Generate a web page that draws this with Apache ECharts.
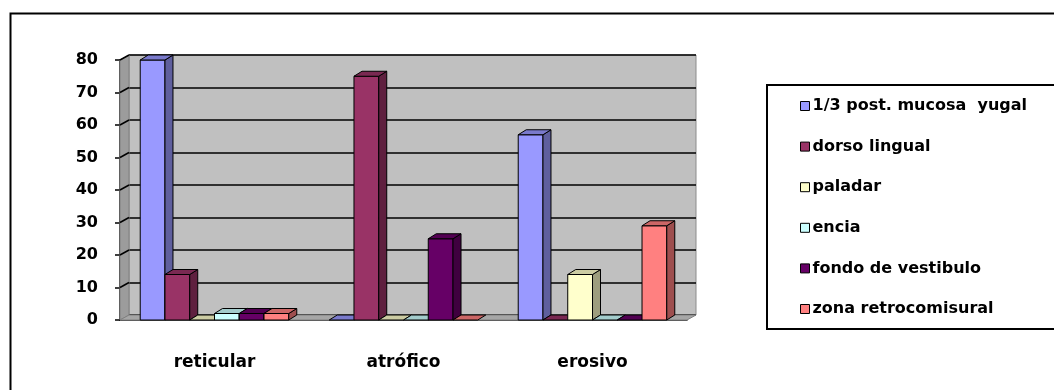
<!DOCTYPE html>
<html>
<head>
<meta charset="utf-8">
<script src="https://cdn.jsdelivr.net/npm/echarts@6/dist/echarts.min.js"></script>
<style>
  html, body {margin: 0; padding: 0; background: #fff;}
  #chart {width: 1054px; height: 390px;}
</style>
</head>
<body>
<div id="chart"></div>
<script>
const categories = ['reticular', 'atrófico', 'erosivo'];
const seriesNames = [
    '1/3 post. mucosa  yugal',
    'dorso lingual',
    'paladar',
    'encia',
    'fondo de vestibulo',
    'zona retrocomisural',
];
const postMucosaYugal = [80, 0, 57];
const dorsoLingual = [14, 75, 0];
const paladar = [0, 0, 14];
const encia = [2, 0, 0];
const fondoVestibulo = [2, 25, 0];
const zonaRetrocomisural = [2, 0, 29];
const seriesValues = [postMucosaYugal, dorsoLingual, paladar, encia, fondoVestibulo, zonaRetrocomisural];
const seriesColors = ['#9999ff', '#993366', '#ffffcc', '#ccffff', '#660066', '#ff8080'];

const FONT = 'DejaVu Sans';
const DX = 8, DY = 5;       // bar depth
const WX = 9, WY = 5;       // wall depth

const shade = (hex, f) => {
    const n = parseInt(hex.slice(1), 16);
    const r = Math.round(((n >> 16) & 255) * f);
    const g = Math.round(((n >> 8) & 255) * f);
    const b = Math.round((n & 255) * f);
    return `rgb(${r},${g},${b})`;
};

const barRenderer = (idx, color) => (params, api) => {
    const cat = api.value(0);
    const val = api.value(1);
    const top = api.coord([cat, val]);
    const base = api.coord([cat, 0]);
    const w = api.size([1, 0])[0] * 0.131;
    const x0 = top[0] - 3 * w + idx * w;
    const x1 = x0 + w;
    const stroke = {stroke: '#000', lineWidth: 1};
    const children = [];
    if (val > 0) {
        children.push({
            type: 'rect',
            shape: {x: x0, y: top[1], width: w, height: base[1] - top[1]},
            style: Object.assign({fill: color}, stroke),
        });
        children.push({
            type: 'polygon',
            shape: {points: [[x1, top[1]], [x1 + DX, top[1] - DY], [x1 + DX, base[1] - DY], [x1, base[1]]]},
            style: Object.assign({fill: shade(color, 0.62)}, stroke),
        });
    }
    children.push({
        type: 'polygon',
        shape: {points: [[x0, top[1]], [x0 + DX, top[1] - DY], [x1 + DX, top[1] - DY], [x1, top[1]]]},
        style: Object.assign({fill: shade(color, 0.8)}, stroke),
    });
    return {type: 'group', children};
};

const wallRenderer = (params, api) => {
    const cs = params.coordSys;
    const left = cs.x, right = cs.x + cs.width, bottom = cs.y + cs.height, topY = cs.y;
    const children = [
        {
            type: 'polygon',
            shape: {points: [[left, topY], [left + WX, topY - WY], [left + WX, bottom - WY], [left, bottom]]},
            style: {fill: '#9c9c9c', stroke: '#808080', lineWidth: 1},
        },
        {
            type: 'polygon',
            shape: {points: [[left, bottom], [left + WX, bottom - WY], [right + WX, bottom - WY], [right, bottom]]},
            style: {fill: '#a6a6a6', stroke: '#808080', lineWidth: 1},
        },
    ];
    for (let v = 10; v <= 80; v += 10) {
        const y = api.coord([0, v])[1];
        children.push({
            type: 'line',
            shape: {x1: left, y1: y, x2: left + WX, y2: y - WY},
            style: {stroke: '#000', lineWidth: 1.5},
        });
    }
    return {type: 'group', children};
};

const chart = echarts.init(document.getElementById('chart'));

const barSeries = seriesNames.map((name, i) => ({
    name,
    type: 'custom',
    xAxisIndex: 0,
    yAxisIndex: 0,
    z: 3,
    itemStyle: {color: seriesColors[i]},
    renderItem: barRenderer(i, seriesColors[i]),
    data: seriesValues[i].map((v, c) => [c, v]),
}));

chart.setOption({
    animation: false,
    grid: [
        {left: 120, right: 367, top: 60, bottom: 70},
        {left: 129, right: 358, top: 55, bottom: 75, show: true, backgroundColor: '#c0c0c0', borderColor: '#8c8c8c', borderWidth: 1},
    ],
    xAxis: [
        {
            type: 'category',
            gridIndex: 0,
            data: categories,
            axisLine: {lineStyle: {color: '#000', width: 1.5}},
            axisTick: {length: 6, lineStyle: {color: '#000', width: 2}},
            axisLabel: {color: '#000', fontFamily: FONT, fontWeight: 'bold', fontSize: 17, margin: 34},
        },
        {type: 'category', gridIndex: 1, data: categories, show: false},
    ],
    yAxis: [
        {
            type: 'value',
            gridIndex: 0,
            min: 0,
            max: 80,
            interval: 10,
            axisLine: {show: true, lineStyle: {color: '#000', width: 1.5}},
            axisTick: {show: true, length: 5, lineStyle: {color: '#000', width: 1.5}},
            axisLabel: {color: '#000', fontFamily: FONT, fontWeight: 'bold', fontSize: 16, margin: 22},
            splitLine: {show: false},
        },
        {
            type: 'value',
            gridIndex: 1,
            min: 0,
            max: 80,
            interval: 10,
            axisLine: {show: false},
            axisTick: {show: false},
            axisLabel: {show: false},
            splitLine: {lineStyle: {color: '#000', width: 1.5}},
        },
    ],
    legend: {
        orient: 'vertical',
        left: 795,
        top: 93,
        itemWidth: 9,
        itemHeight: 9,
        itemGap: 24.6,
        icon: 'rect',
        itemStyle: {borderColor: '#000', borderWidth: 1},
        textStyle: {color: '#000', fontFamily: FONT, fontWeight: 'bold', fontSize: 16, lineHeight: 16, padding: [0, 0, 0, -2]},
        data: seriesNames,
    },
    graphic: [
        {type: 'rect', left: 8, top: 11, shape: {width: 1100, height: 400}, style: {fill: 'none', stroke: '#000', lineWidth: 2}, silent: true, z: -1},
        {type: 'rect', left: 766, top: 84, shape: {width: 320, height: 244}, style: {fill: '#fff', stroke: '#000', lineWidth: 2}, silent: true, z: -1},
    ],
    series: [
        {
            name: 'walls',
            type: 'custom',
            xAxisIndex: 0,
            yAxisIndex: 0,
            z: 1,
            silent: true,
            renderItem: wallRenderer,
            data: [[0, 0]],
        },
        ...barSeries,
    ],
});
</script>
</body>
</html>
